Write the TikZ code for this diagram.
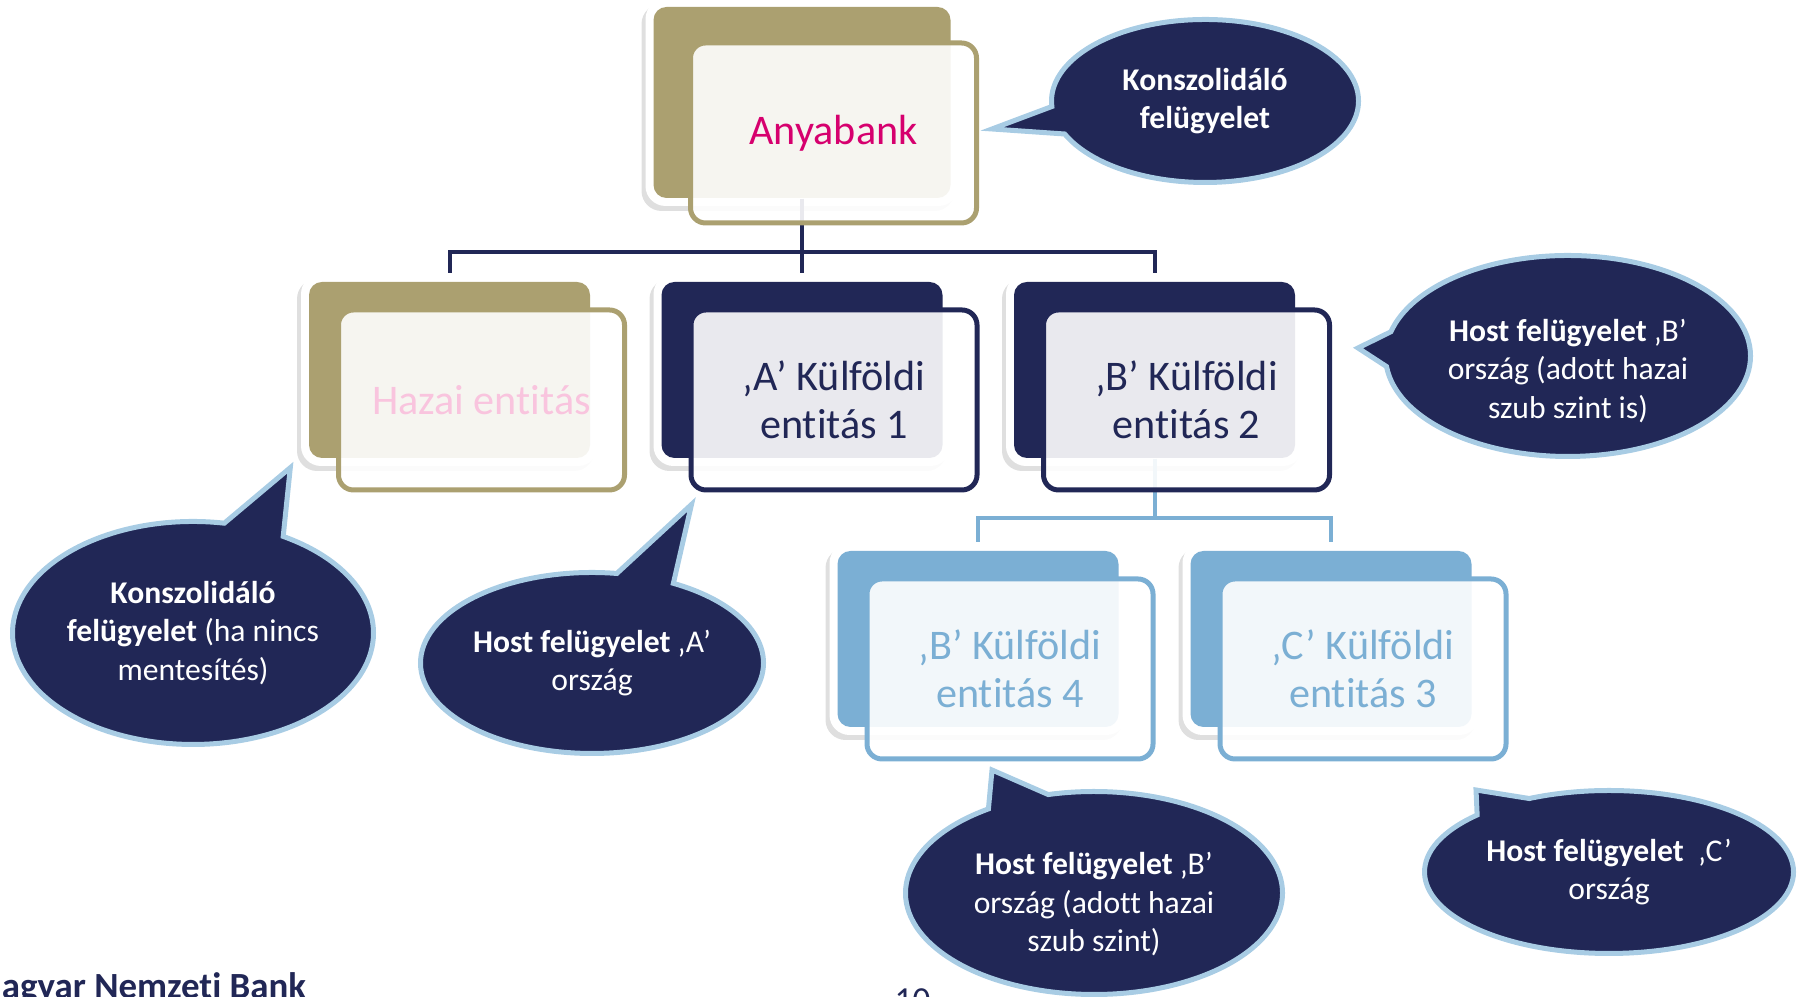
\documentclass[tikz,border=0pt]{standalone}
\usepackage{fontspec}
\setmainfont{Carlito}[Ligatures=NoCommon]
\usepackage{xcolor}
\usetikzlibrary{shapes.callouts,shadows,calc}

\definecolor{mnbnavy}{RGB}{33,39,86}
\definecolor{mnbolive}{RGB}{171,160,112}
\definecolor{mnbblue}{RGB}{123,175,212}
\definecolor{bubedge}{RGB}{168,204,228}
\definecolor{mnbmagenta}{RGB}{214,0,110}
\definecolor{mnbpink}{RGB}{249,196,222}

\begin{document}
\begin{tikzpicture}[
  halo/.style={rectangle, rounded corners=0.2cm, fill=white, minimum width=2.97cm, minimum height=1.92cm,
    drop shadow={shadow xshift=-0.04cm, shadow yshift=-0.05cm, opacity=0.25}},
  back/.style={rectangle, rounded corners=0.13cm, minimum width=2.81cm, minimum height=1.76cm},
  front/.style={rectangle, rounded corners=0.15cm, fill=white, fill opacity=0.9, text opacity=1,
    line width=0.05cm, minimum width=2.86cm, minimum height=1.80cm, align=center,
    font=\fontsize{12}{13.6}\selectfont},
  bubble/.style={ellipse callout, fill=mnbnavy, draw=bubedge, line width=0.05cm, text=white,
    align=center, inner sep=0pt, callout pointer arc=20, font=\fontsize{9}{11}\selectfont},
  conn/.style={line width=0.04cm}
]
\useasboundingbox (0,0) rectangle (18.08,9.97);

% back cards
\node[halo, minimum width=3.13cm, minimum height=2.07cm] (anya-halo) at (8.02,8.945) {};
\node[back, fill=mnbolive, minimum width=2.97cm, minimum height=1.91cm] (anya-back) at (8.02,8.945) {};

\node[halo] (hazai-halo) at (4.495,6.27) {};
\node[back, fill=mnbolive] (hazai-back) at (4.495,6.27) {};
\node[halo] (kulfA-halo) at (8.02,6.27) {};
\node[back, fill=mnbnavy] (kulfA-back) at (8.02,6.27) {};
\node[halo] (kulfB-halo) at (11.545,6.27) {};
\node[back, fill=mnbnavy] (kulfB-back) at (11.545,6.27) {};

\node[halo] (kulfB4-halo) at (9.78,3.58) {};
\node[back, fill=mnbblue] (kulfB4-back) at (9.78,3.58) {};
\node[halo] (kulfC3-halo) at (13.31,3.58) {};
\node[back, fill=mnbblue] (kulfC3-back) at (13.31,3.58) {};

% connectors
\coordinate (j1) at (8.02,7.45);
\draw[conn, mnbnavy] (anya-back) -- (j1);
\draw[conn, mnbnavy] (j1) -| (hazai-halo.north);
\draw[conn, mnbnavy] (j1) -- (kulfA-halo.north);
\draw[conn, mnbnavy] (j1) -| (kulfB-halo.north);

\coordinate (j2) at (11.545,4.79);
\draw[conn, mnbblue] (kulfB-back) -- (j2);
\draw[conn, mnbblue] (j2) -| (kulfB4-halo.north);
\draw[conn, mnbblue] (j2) -| (kulfC3-halo.north);

% front cards
\node[front, draw=mnbolive, text=mnbmagenta] (anya) at (8.335,8.64) {Anyabank};
\node[front, draw=mnbolive, text=mnbpink] (hazai) at (4.815,5.97) {Hazai entitás};
\node[front, draw=mnbnavy, text=mnbnavy] (kulfA) at (8.34,5.97) {‚A’ Külföldi\\entitás 1};
\node[front, draw=mnbnavy, text=mnbnavy] (kulfB) at (11.865,5.97) {‚B’ Külföldi\\entitás 2};
\node[front, draw=mnbblue, text=mnbblue] (kulfB4) at (10.10,3.28) {‚B’ Külföldi\\entitás 4};
\node[front, draw=mnbblue, text=mnbblue] (kulfC3) at (13.63,3.28) {‚C’ Külföldi\\entitás 3};

% callouts
\node[bubble, minimum width=3.07cm, minimum height=1.63cm,
  callout absolute pointer={($(anya.east)+(0.13,0.04)$)}] (konsz) at (12.05,8.96)
  {\textbf{Konszolidáló}\\\textbf{felügyelet}};
\node[bubble, minimum width=3.61cm, minimum height=2.23cm,
  callout absolute pointer={($(hazai-halo.south west)+(-0.1,-0.01)$)}] (konszH) at (1.93,3.64)
  {\textbf{Konszolidáló}\\\textbf{felügyelet} (ha nincs\\mentesítés)};
\node[bubble, minimum width=3.43cm, minimum height=1.81cm,
  callout absolute pointer={($(kulfA.south west)+(0.03,-0.12)$)}] (hostA) at (5.92,3.34)
  {\textbf{Host felügyelet} ‚A’\\ország};
\node[bubble, minimum width=3.65cm, minimum height=2.01cm,
  callout absolute pointer={($(kulfB.east)+(0.26,0.52)$)}] (hostB) at (15.68,6.41)
  {\rule{0pt}{0.52cm}\textbf{Host felügyelet} ‚B’\\ország (adott hazai\\szub szint is)};
\node[bubble, minimum width=3.77cm, minimum height=2.03cm,
  callout absolute pointer={($(kulfB4.south)+(-0.18,-0.085)$)}] (hostBsub) at (10.94,1.04)
  {\rule{0pt}{0.45cm}\textbf{Host felügyelet} ‚B’\\ország (adott hazai\\szub szint)};
\node[bubble, minimum width=3.69cm, minimum height=1.63cm,
  callout absolute pointer={($(kulfC3.south)+(1.13,-0.285)$)}] (hostC) at (16.09,1.25)
  {\textbf{Host felügyelet}\ \ ‚C’\\ország};

% footer
\node[anchor=base west, inner sep=0pt, text=mnbnavy, font=\fontsize{10.5}{12}\selectfont\bfseries] (mnb) at (-0.31,-0.02) {Magyar Nemzeti Bank};
\node[anchor=base west, inner sep=0pt, text=mnbnavy, font=\fontsize{10}{12}\selectfont] (oldal) at (8.94,-0.15) {10};

\end{tikzpicture}
\end{document}
